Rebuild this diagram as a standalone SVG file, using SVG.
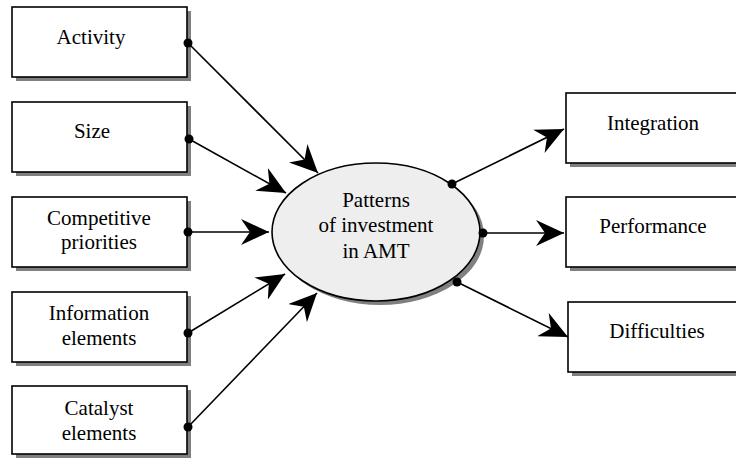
<svg xmlns="http://www.w3.org/2000/svg" width="736" height="458" viewBox="0 0 736 458">
<style>
.box{fill:#ffffff;stroke:#000;stroke-width:1.6}
.shd{fill:#808080;stroke:none}
.t{font-family:"Liberation Serif","Times New Roman",serif;font-size:21px;fill:#000;text-anchor:middle}
.ln{stroke:#000;stroke-width:1.6;fill:none;marker-end:url(#ah)}
.dot{fill:#000}
</style>
<defs>
<marker id="ah" markerUnits="userSpaceOnUse" markerWidth="28" markerHeight="26" viewBox="0 0 28 26" refX="28" refY="13" orient="auto">
<path d="M28,13 L0,0 L9,13 L0,26 Z" fill="#000"/>
</marker>
</defs>
<rect width="736" height="458" fill="#fff"/>
<g id="activity">
<rect class="shd" x="16" y="11" width="175" height="70"/>
<rect class="box" x="12" y="7" width="175" height="70"/>
<text class="t" x="91" y="44">Activity</text>
</g>
<g id="size">
<rect class="shd" x="16" y="106" width="175" height="70"/>
<rect class="box" x="12" y="102" width="175" height="70"/>
<text class="t" x="92" y="138">Size</text>
</g>
<g id="competitive">
<rect class="shd" x="16" y="201" width="175" height="70"/>
<rect class="box" x="12" y="197" width="175" height="70"/>
<text class="t" x="99" y="225">Competitive</text>
<text class="t" x="99" y="249">priorities</text>
</g>
<g id="information">
<rect class="shd" x="16" y="296" width="175" height="70"/>
<rect class="box" x="12" y="292" width="175" height="70"/>
<text class="t" x="99" y="320">Information</text>
<text class="t" x="99" y="345">elements</text>
</g>
<g id="catalyst">
<rect class="shd" x="16" y="390" width="175" height="68"/>
<rect class="box" x="12" y="386" width="175" height="68"/>
<text class="t" x="99" y="415">Catalyst</text>
<text class="t" x="99" y="440">elements</text>
</g>
<g id="patterns">
<ellipse class="shd" cx="380" cy="236" rx="104" ry="69"/>
<ellipse cx="376" cy="232" rx="104" ry="69" fill="#eeeeee" stroke="#000" stroke-width="1.6"/>
<text class="t" x="376" y="207">Patterns</text>
<text class="t" x="376" y="232">of investment</text>
<text class="t" x="376" y="258">in AMT</text>
</g>
<g id="integration">
<rect class="shd" x="570" y="97" width="175" height="70"/>
<rect class="box" x="566" y="93" width="175" height="70"/>
<text class="t" x="653" y="130">Integration</text>
</g>
<g id="performance">
<rect class="shd" x="570" y="201" width="175" height="70"/>
<rect class="box" x="566" y="197" width="175" height="70"/>
<text class="t" x="653" y="233">Performance</text>
</g>
<g id="difficulties">
<rect class="shd" x="572" y="306" width="175" height="70"/>
<rect class="box" x="568" y="302" width="175" height="70"/>
<text class="t" x="657" y="338">Difficulties</text>
</g>
<g id="connectors">
<line class="ln" x1="188" y1="43" x2="318" y2="173"/>
<line class="ln" x1="189" y1="139" x2="286" y2="193"/>
<line class="ln" x1="188" y1="232" x2="269" y2="232"/>
<line class="ln" x1="188" y1="333" x2="285" y2="274"/>
<line class="ln" x1="188" y1="427" x2="317" y2="293"/>
<line class="ln" x1="452" y1="184" x2="564" y2="129"/>
<line class="ln" x1="483" y1="233" x2="564" y2="233"/>
<line class="ln" x1="457" y1="282" x2="568" y2="337"/>
<circle class="dot" cx="188" cy="43" r="4.5"/>
<circle class="dot" cx="189" cy="139" r="4.5"/>
<circle class="dot" cx="188" cy="232" r="4.5"/>
<circle class="dot" cx="188" cy="333" r="4.5"/>
<circle class="dot" cx="188" cy="427" r="4.5"/>
<circle class="dot" cx="452" cy="184" r="4.5"/>
<circle class="dot" cx="483" cy="233" r="4.5"/>
<circle class="dot" cx="457" cy="282" r="4.5"/>
</g>
</svg>
